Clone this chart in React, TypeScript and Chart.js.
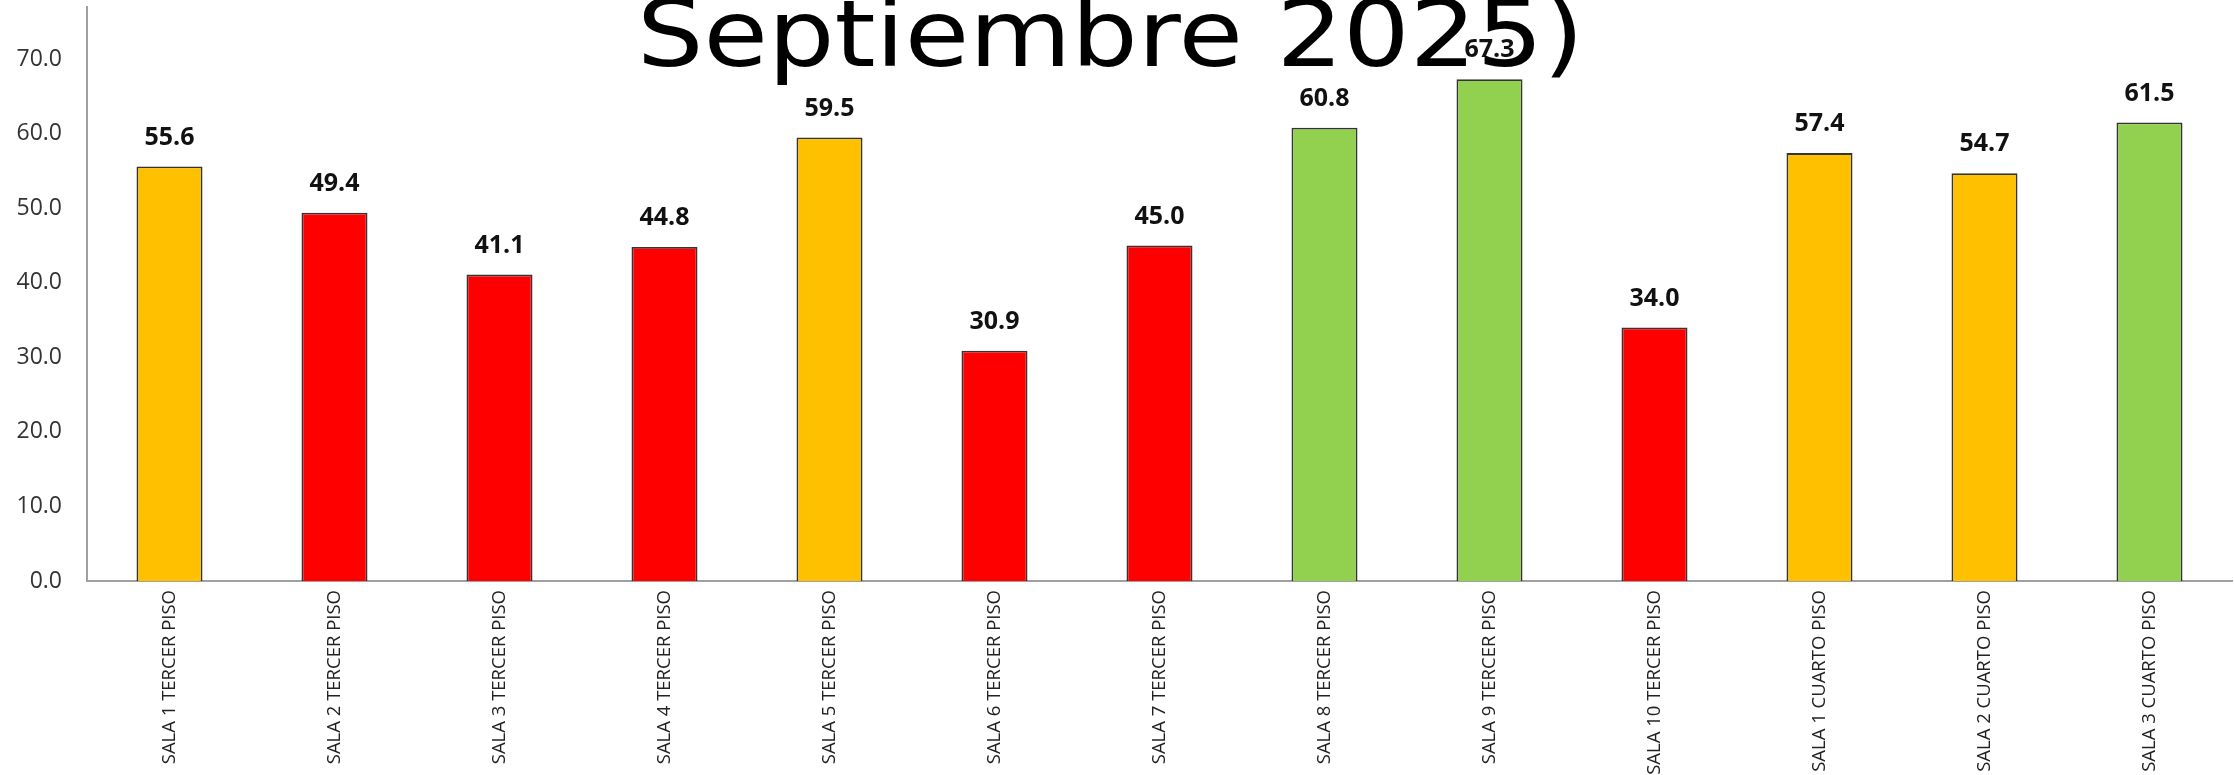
import React, { useEffect, useRef } from "react";
import { Chart, registerables } from "chart.js";

Chart.register(...registerables);

const categories = [
  "SALA 1 TERCER PISO",
  "SALA 2 TERCER PISO",
  "SALA 3 TERCER PISO",
  "SALA 4 TERCER PISO",
  "SALA 5 TERCER PISO",
  "SALA 6 TERCER PISO",
  "SALA 7 TERCER PISO",
  "SALA 8 TERCER PISO",
  "SALA 9 TERCER PISO",
  "SALA 10 TERCER PISO",
  "SALA 1 CUARTO PISO",
  "SALA 2 CUARTO PISO",
  "SALA 3 CUARTO PISO",
];

const values = [55.6, 49.4, 41.1, 44.8, 59.5, 30.9, 45.0, 60.8, 67.3, 34.0, 57.4, 54.7, 61.5];

const YELLOW = "#FFC000";
const RED = "#FF0000";
const GREEN = "#92D050";
const barColors = [YELLOW, RED, RED, RED, YELLOW, RED, RED, GREEN, GREEN, RED, YELLOW, YELLOW, GREEN];

const yTicks = [0, 10, 20, 30, 40, 50, 60, 70];
const TITLE = "Septiembre 2025)";

const titlePlugin = {
  id: "bigTitle",
  beforeDraw(chart: any) {
    const ctx = chart.ctx;
    ctx.save();
    ctx.font = '93px "DejaVu Sans"';
    const w = ctx.measureText(TITLE).width;
    ctx.translate(637, 66);
    ctx.scale(947 / w, 1);
    ctx.fillStyle = "#000";
    ctx.textBaseline = "alphabetic";
    ctx.textAlign = "left";
    ctx.fillText(TITLE, 0, 0);
    ctx.restore();
  },
};

const valueLabels = {
  id: "valueLabels",
  afterDatasetsDraw(chart: any) {
    const ctx = chart.ctx;
    const meta = chart.getDatasetMeta(0);
    ctx.save();
    ctx.font = 'bold 25px "Open Sans"';
    ctx.fillStyle = "#111";
    ctx.textAlign = "center";
    ctx.textBaseline = "middle";
    meta.data.forEach((bar: any, i: number) => {
      ctx.fillText(values[i].toFixed(1), bar.x, bar.y - 29);
    });
    ctx.restore();
  },
};

export default function App() {
  const ref = useRef<HTMLCanvasElement | null>(null);
  useEffect(() => {
    if (!ref.current) return;
    const chart = new Chart(ref.current, {
      type: "bar",
      data: {
        labels: categories,
        datasets: [
          {
            data: values,
            backgroundColor: barColors,
            borderColor: "rgba(30,30,30,0.9)",
            borderWidth: 1.8,
            barPercentage: 0.4,
            categoryPercentage: 1,
          },
        ],
      },
      options: {
        animation: false,
        responsive: false,
        devicePixelRatio: 1,
        layout: { padding: { left: 0, right: 2, top: 7, bottom: 0 } },
        plugins: {
          legend: { display: false },
          tooltip: { enabled: false },
          title: { display: false },
        },
        scales: {
          x: {
            grid: { display: false, drawTicks: false },
            border: { display: true, color: "#A0A0A0", width: 2 },
            ticks: {
              minRotation: 90,
              maxRotation: 90,
              padding: 9,
              color: "#222",
              font: { family: "Open Sans", size: 18.5 },
              autoSkip: false,
            },
            afterFit(scale: any) {
              scale.height = 194;
              scale.paddingLeft = 0;
              scale.paddingRight = 0;
              scale.paddingTop = 0;
              scale.paddingBottom = 0;
            },
          },
          y: {
            min: 0,
            max: 77,
            grid: { display: false, drawTicks: false },
            border: { display: true, color: "#A0A0A0", width: 2 },
            afterBuildTicks(scale: any) {
              scale.ticks = yTicks.map((v) => ({ value: v }));
            },
            ticks: {
              padding: 25,
              color: "#333",
              font: { family: "Open Sans", size: 23 },
              callback: (v: any) => Number(v).toFixed(1),
            },
            afterFit(scale: any) {
              scale.width = 87;
              scale.paddingTop = 0;
              scale.paddingBottom = 0;
              scale.paddingLeft = 0;
              scale.paddingRight = 0;
            },
          },
        },
      },
      plugins: [titlePlugin, valueLabels],
    });
    return () => chart.destroy();
  }, []);

  return (
    <div style={{ position: "fixed", left: 0, top: 0, width: 2234, height: 775, background: "#fff" }}>
      <canvas ref={ref} width={2234} height={775} style={{ width: 2234, height: 775, display: "block" }} />
    </div>
  );
}
